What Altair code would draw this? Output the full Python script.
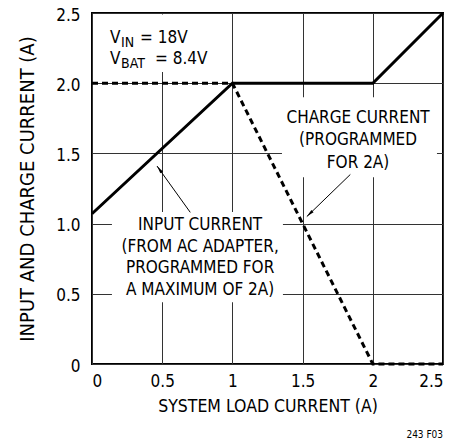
import altair as alt
import pandas as pd

FONT = "DejaVu Sans Condensed"

# series
load_x = [0, 1, 2, 2.5]
input_current = [1.07, 2.0, 2.0, 2.5]
charge_current = [2.0, 2.0, 0.0, 0.0]

x_ticks = [0, 0.5, 1, 1.5, 2, 2.5]
y_ticks = [0, 0.5, 1.0, 1.5, 2.0, 2.5]

# annotations
charge_lines = ["CHARGE CURRENT", "(PROGRAMMED", "FOR 2A)"]
charge_x = 1.895
charge_y = [1.752, 1.595, 1.432]

input_lines = ["INPUT CURRENT", "(FROM AC ADAPTER,", "PROGRAMMED FOR", "A MAXIMUM OF 2A)"]
input_x = 0.77
input_y = [0.99, 0.833, 0.684, 0.527]

# label backgrounds (x1, x2, y1, y2)
boxes_x1 = [0.09, 1.353, 0.142]
boxes_x2 = [0.83, 2.457, 1.36]
boxes_y1 = [2.08, 1.33, 0.44]
boxes_y2 = [2.49, 1.90, 1.083]

# arrows: start -> tip
arrow_x1 = [0.70, 1.84]
arrow_y1 = [1.08, 1.35]
arrow_x2 = [0.463, 1.53]
arrow_y2 = [1.41, 1.05]
arrow_angle = [324, 226]

# V labels
v_main = ["V", "V"]
v_sub = ["IN", "BAT"]
v_rest = ["= 18V", "= 8.4V"]
v_x = [0.128, 0.128]
v_sub_x = [0.207, 0.207]
v_rest_x = [0.342, 0.449]
v_y = [2.325, 2.172]

footer = "243 F03"

xs = alt.Scale(domain=[0, 2.5], nice=False, zero=False)
ys = alt.Scale(domain=[0, 2.5], nice=False, zero=False)

df = pd.DataFrame({"x": load_x * 2,
                   "y": input_current + charge_current,
                   "s": ["input"] * 4 + ["charge"] * 4})

base_x = alt.X("x:Q", scale=xs, axis=alt.Axis(
    values=x_ticks, title="SYSTEM LOAD CURRENT (A)", grid=True,
    labelExpr="format(datum.value, '~g')"))
base_y = alt.Y("y:Q", scale=ys, axis=alt.Axis(
    values=y_ticks, title="INPUT AND CHARGE CURRENT (A)", grid=True,
    labelExpr="datum.value == 0 ? '0' : format(datum.value, '.1f')"))

boxes = alt.Chart(pd.DataFrame({"x": boxes_x1, "x2": boxes_x2,
                                "y": boxes_y1, "y2": boxes_y2})).mark_rect(
    fill="white").encode(
    x=alt.X("x:Q", scale=xs), x2="x2", y=alt.Y("y:Q", scale=ys), y2="y2")

solid = alt.Chart(df[df.s == "input"]).mark_line(
    color="black", strokeWidth=3, strokeCap="butt").encode(
    x=base_x, y=base_y)

dashed = alt.Chart(df[df.s == "charge"]).mark_line(
    color="black", strokeWidth=3, strokeDash=[6, 4], strokeCap="butt").encode(
    x=alt.X("x:Q", scale=xs), y=alt.Y("y:Q", scale=ys))

adf = pd.DataFrame({"x": arrow_x1, "y": arrow_y1, "x2": arrow_x2,
                    "y2": arrow_y2, "a": arrow_angle})
arrow_lines = alt.Chart(adf).mark_rule(color="black", strokeWidth=1).encode(
    x=alt.X("x:Q", scale=xs), y=alt.Y("y:Q", scale=ys), x2="x2", y2="y2")
arrow_heads = alt.Chart(adf).mark_point(
    shape="M0,0L-0.3,1.5L0.3,1.5Z", filled=True, color="black",
    opacity=1, size=110).encode(
    x=alt.X("x2:Q", scale=xs), y=alt.Y("y2:Q", scale=ys),
    angle=alt.Angle("a:Q", scale=None))

ctext = alt.Chart(pd.DataFrame({"x": [charge_x] * 3, "y": charge_y,
                                "t": charge_lines})).mark_text(
    font=FONT, fontSize=17, align="center", baseline="middle").encode(
    x=alt.X("x:Q", scale=xs), y=alt.Y("y:Q", scale=ys), text="t:N")
itext = alt.Chart(pd.DataFrame({"x": [input_x] * 4, "y": input_y,
                                "t": input_lines})).mark_text(
    font=FONT, fontSize=17, align="center", baseline="middle").encode(
    x=alt.X("x:Q", scale=xs), y=alt.Y("y:Q", scale=ys), text="t:N")

vdf = pd.DataFrame({"x": v_x, "xs": v_sub_x, "xr": v_rest_x, "y": v_y,
                    "m": v_main, "s": v_sub, "r": v_rest})
vmain = alt.Chart(vdf).mark_text(font=FONT, fontSize=17, align="left",
                                 baseline="middle").encode(
    x=alt.X("x:Q", scale=xs), y=alt.Y("y:Q", scale=ys), text="m:N")
vsub = alt.Chart(vdf).mark_text(font=FONT, fontSize=14, align="left",
                                baseline="middle", dy=5).encode(
    x=alt.X("xs:Q", scale=xs), y=alt.Y("y:Q", scale=ys), text="s:N")
vrest = alt.Chart(vdf).mark_text(font=FONT, fontSize=17, align="left",
                                 baseline="middle").encode(
    x=alt.X("xr:Q", scale=xs), y=alt.Y("y:Q", scale=ys), text="r:N")

foot = alt.Chart(pd.DataFrame({"x": [2.37], "y": [-0.506], "t": [footer]})).mark_text(
    font=FONT, fontSize=10, align="center", baseline="middle").encode(
    x=alt.X("x:Q", scale=xs), y=alt.Y("y:Q", scale=ys), text="t:N")

chart = alt.layer(solid, boxes, dashed, arrow_lines, arrow_heads,
                  ctext, itext, vmain, vsub, vrest, foot).properties(
    width=351, height=351,
    autosize=alt.AutoSizeParams(type="none"),
    padding={"left": 84, "top": 5, "right": 4, "bottom": 75},
).configure_view(stroke="black", strokeWidth=2).configure_axis(
    gridColor="#333333", gridWidth=1, gridOpacity=1, domain=False,
    ticks=False, labelFont=FONT, labelFontSize=17, labelColor="black",
    titleFont=FONT, titleFontWeight="normal", titleColor="black",
).configure_axisX(labelPadding=9, titlePadding=8, titleFontSize=17.5
).configure_axisY(labelPadding=12, titlePadding=18, titleFontSize=20,
                  labelOffset=2)

chart.save("out.html", embed_options={"renderer": "svg", "actions": False})
